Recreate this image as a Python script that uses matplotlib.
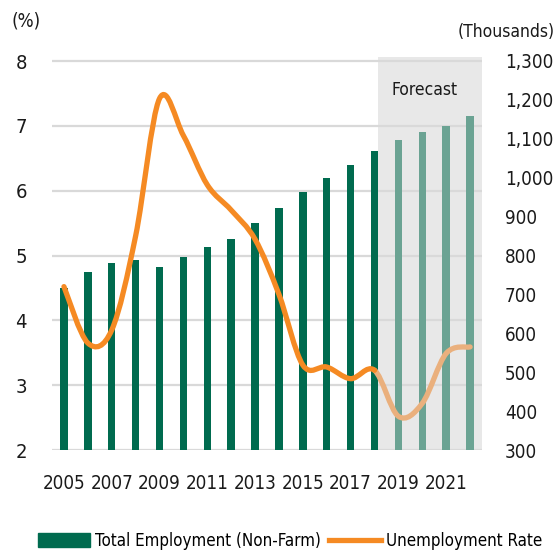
import numpy as np
import matplotlib
matplotlib.use("Agg")
import matplotlib.pyplot as plt
from matplotlib import font_manager as fm
from matplotlib.path import Path
from matplotlib.patches import PathPatch, Patch
from matplotlib.lines import Line2D

# the original uses a condensed face; take a narrow one if installed
narrow = None
for f in fm.fontManager.ttflist:
    if f.style != 'normal' or f.weight not in (400, 'normal', 'regular'):
        continue
    if 'Narrow' in f.name or 'Condensed' in f.name or 'condensed' in str(f.stretch):
        narrow = f
        break
if narrow is not None:
    plt.rcParams['font.family'] = [narrow.name, 'DejaVu Sans']
    plt.rcParams['font.stretch'] = narrow.stretch

years = list(range(2005, 2023))
employment = [716, 758, 782, 788, 770, 795, 822, 843, 883, 922,
              963, 999, 1033, 1069, 1098, 1117, 1134, 1159]
unemployment = [4.52, 3.65, 3.85, 5.3, 7.42, 6.85, 6.09, 5.7, 5.25, 4.4,
                3.31, 3.28, 3.10, 3.23, 2.52, 2.72, 3.49, 3.59]
forecast_from = 2019
year_labels = [str(y) for y in range(2005, 2022, 2)]

GREEN = '#006B4F'
GREEN_LT = '#6BA393'
ORANGE = '#F58A23'
ORANGE_LT = '#EAB07D'
GRID = '#D9D9D9'
SHADE = '#E8E8E8'
TXT = '#1a1a1a'


def smooth_path(xs, ys, t=0.5):
    # catmull-rom style bezier through the points (like excel smoothed lines)
    xs = np.asarray(xs, float)
    ys = np.asarray(ys, float)
    verts = [(xs[0], ys[0])]
    codes = [Path.MOVETO]
    n = len(xs)
    for i in range(n - 1):
        p0 = np.array([xs[max(i - 1, 0)], ys[max(i - 1, 0)]])
        p1 = np.array([xs[i], ys[i]])
        p2 = np.array([xs[i + 1], ys[i + 1]])
        p3 = np.array([xs[min(i + 2, n - 1)], ys[min(i + 2, n - 1)]])
        c1 = p1 + (p2 - p0) * t / 3
        c2 = p2 - (p3 - p1) * t / 3
        verts += [tuple(c1), tuple(c2), tuple(p2)]
        codes += [Path.CURVE4] * 3
    return np.array(verts), codes


fig = plt.figure(figsize=(5.56, 5.54), dpi=100)
ax = fig.add_axes([52 / 556, 104 / 554, 430 / 556, 393 / 554])
top_pct = 8 + 4 / 64.8
ax.set_xlim(2004.5, 2022.5)
ax.set_ylim(2, top_pct)

# forecast shading + grid
ax.axvspan(2018.16, 2022.5, color=SHADE, lw=0, zorder=0)
for v in range(2, 9):
    ax.axhline(v, color=GRID, lw=1.6, zorder=1)

ax.set_yticks(range(2, 9))
ax.set_xticks(range(2005, 2022, 2))
ax.set_xticklabels(year_labels)
ax.tick_params(axis='both', length=0, colors=TXT)
ax.tick_params(axis='y', pad=18, labelsize=14.5)
ax.tick_params(axis='x', pad=17, labelsize=13.5)
for s in ax.spines.values():
    s.set_visible(False)

# bars on the right scale
axr = ax.twinx()
axr.set_ylim(300, 1300 + 4 / 0.389)
bar_colors = [GREEN if y < forecast_from else GREEN_LT for y in years]
axr.bar(years, employment, width=0.31, color=bar_colors, zorder=2)
axr.set_yticks(range(300, 1301, 100))
axr.set_yticklabels([f'{v:,}' for v in range(300, 1301, 100)])
axr.tick_params(axis='y', length=0, labelsize=13.5, pad=16.5, colors=TXT)
for s in axr.spines.values():
    s.set_visible(False)

# unemployment line on top
axl = ax.twinx()
axl.set_ylim(2, top_pct)
axl.set_yticks([])
for s in axl.spines.values():
    s.set_visible(False)
verts, codes = smooth_path(years, unemployment)
k = years.index(2018)
hv, hc = verts[:1 + 3 * k], codes[:1 + 3 * k]
fv = verts[3 * k:]
fc = [Path.MOVETO] + [Path.CURVE4] * (len(fv) - 1)
axl.add_patch(PathPatch(Path(fv, fc), fill=False, edgecolor=ORANGE_LT,
                        lw=3.8, capstyle='round', zorder=3))
axl.add_patch(PathPatch(Path(hv, hc), fill=False, edgecolor=ORANGE, lw=3.8,
                        capstyle='round', joinstyle='round', zorder=4))

ax.text(2020.1, 7.55, 'Forecast', fontsize=12.5, ha='center', va='center',
        color=TXT)
fig.text(26 / 556, 1 - 21 / 554, '(%)', fontsize=13.5, ha='center', va='center',
         color=TXT)
fig.text(1 - 1 / 556, 1 - 32 / 554, '(Thousands)', fontsize=12.5, ha='right',
         va='center', color=TXT)

handles = [Patch(color=GREEN, label='Total Employment (Non-Farm)'),
           Line2D([], [], color=ORANGE, lw=3.8, label='Unemployment Rate')]
fig.legend(handles=handles, loc='center', bbox_to_anchor=(290 / 556, 1 - 541 / 554),
           ncol=2, frameon=False, fontsize=12.2, handlelength=3.1,
           handleheight=0.9, handletextpad=0.3, columnspacing=0.45,
           borderpad=0, borderaxespad=0)

fig.savefig('out.png', dpi=100)
